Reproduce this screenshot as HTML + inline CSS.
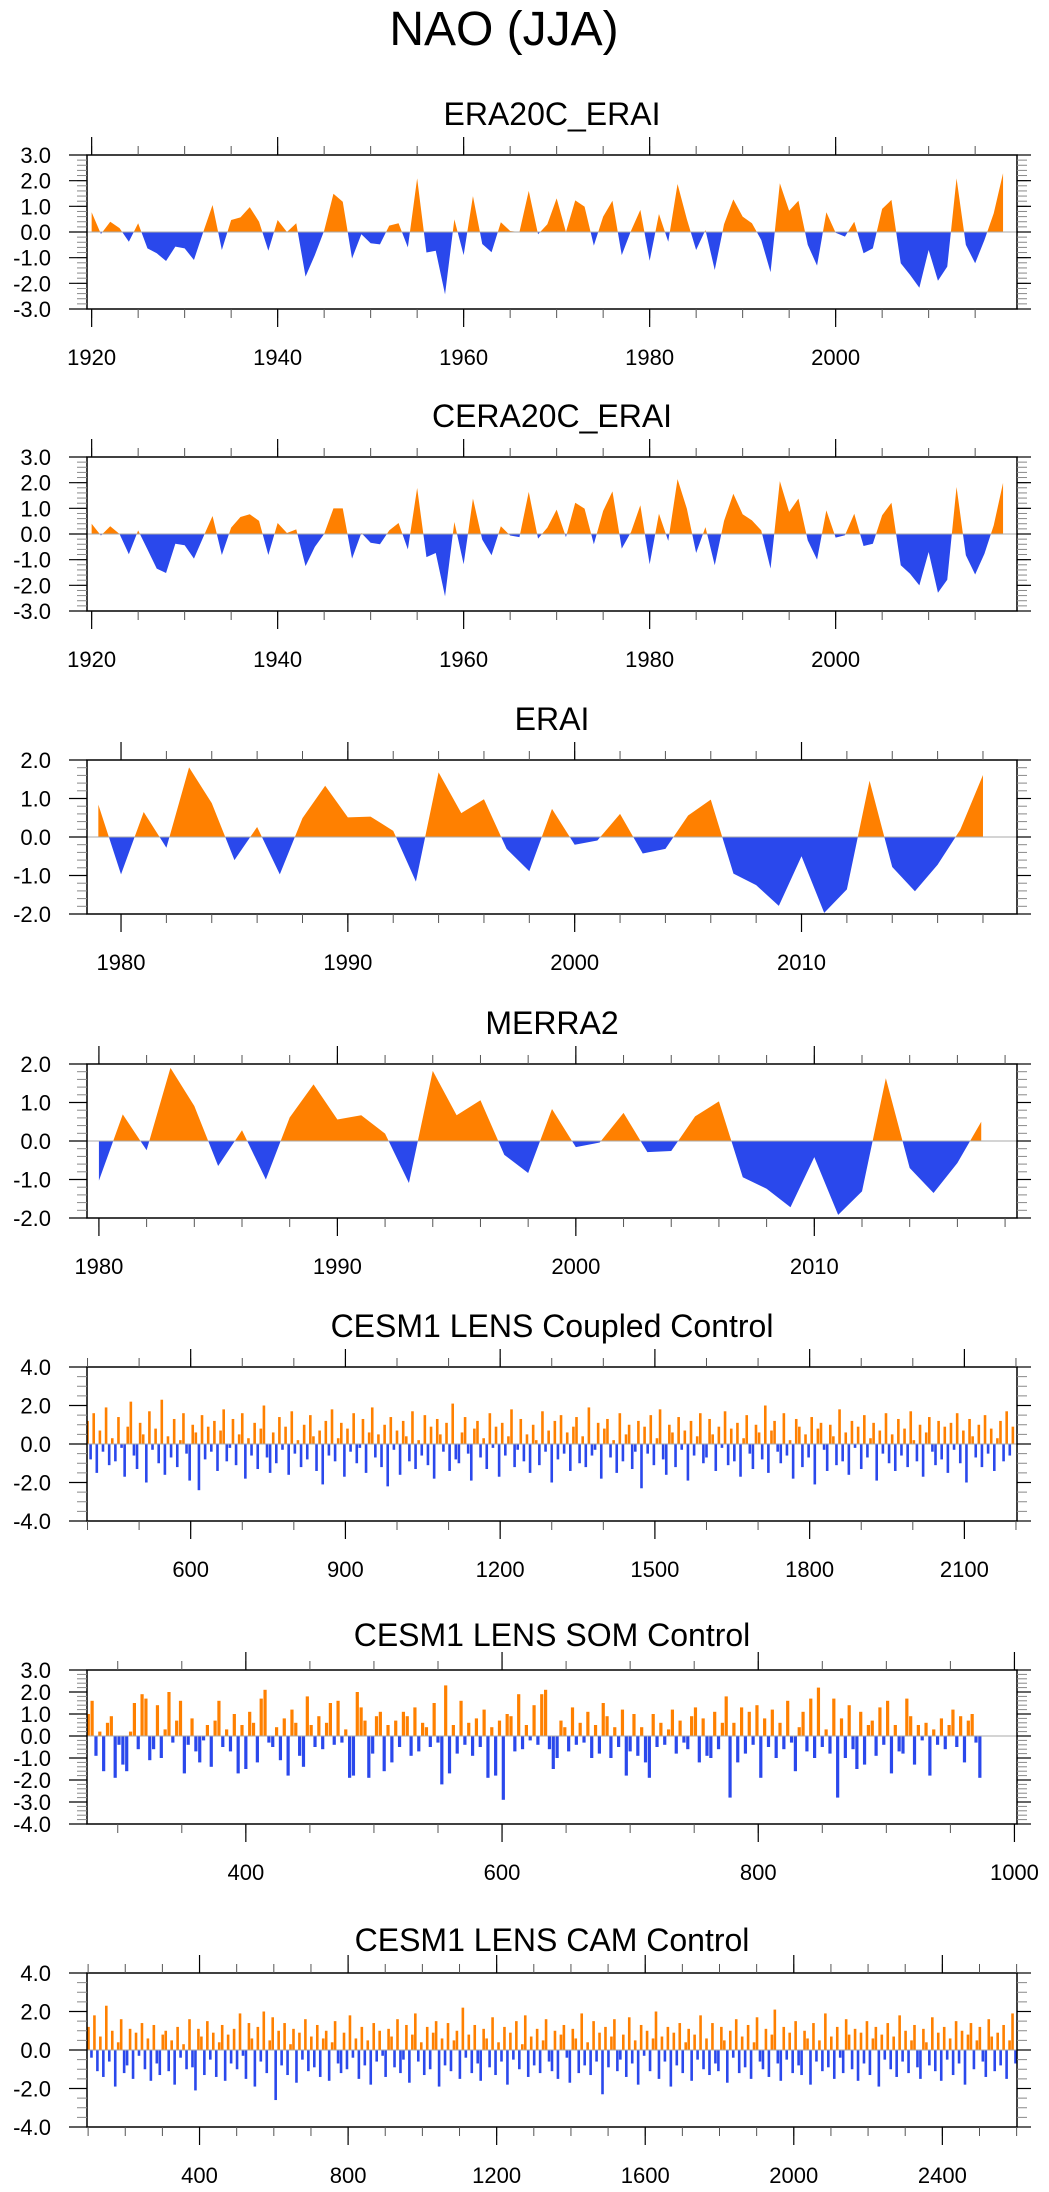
<!DOCTYPE html>
<html><head><meta charset="utf-8"><title>NAO (JJA)</title>
<style>html,body{margin:0;padding:0;background:#fff}svg{display:block;font-family:"Liberation Sans",Arial,sans-serif}</style>
</head><body>
<svg id="fig" width="1049" height="2192" viewBox="0 0 1049 2192" xmlns="http://www.w3.org/2000/svg">
<text x="504" y="45" font-size="48" text-anchor="middle">NAO (JJA)</text>
</svg>
<script>
const era20cYears0 = 1920;
const era20cValues = [0.77,-0.08,0.40,0.15,-0.38,0.34,-0.64,-0.83,-1.13,-0.57,-0.64,-1.09,0.0,1.05,-0.70,0.47,0.57,0.97,0.40,-0.73,0.47,0.0,0.34,-1.74,-0.9,0.05,1.49,1.18,-1.03,-0.09,-0.44,-0.48,0.25,0.34,-0.6,2.09,-0.8,-0.73,-2.43,0.49,-0.9,1.40,-0.47,-0.79,0.38,0.04,0.0,1.6,-0.09,0.3,1.31,0.0,1.23,0.99,-0.53,0.6,1.22,-0.9,0.05,0.86,-1.12,0.7,-0.38,1.87,0.5,-0.7,0.08,-1.48,0.3,1.27,0.6,0.34,-0.31,-1.57,1.9,0.83,1.22,-0.5,-1.31,0.77,-0.03,-0.18,0.4,-0.83,-0.64,0.9,1.25,-1.22,-1.67,-2.17,-0.7,-1.9,-1.35,2.09,-0.5,-1.22,-0.31,0.73,2.29];
const cera20cYears0 = 1920;
const cera20cValues = [0.40,-0.06,0.30,0.0,-0.79,0.14,-0.6,-1.35,-1.52,-0.38,-0.44,-0.96,-0.12,0.70,-0.82,0.25,0.66,0.77,0.51,-0.82,0.43,0.04,0.18,-1.25,-0.5,0.0,1.0,1.0,-0.96,0.04,-0.34,-0.4,0.14,0.43,-0.6,1.79,-0.9,-0.74,-2.43,0.47,-1.18,1.38,-0.22,-0.83,0.30,-0.06,-0.12,1.64,-0.18,0.25,0.95,-0.12,1.22,0.99,-0.4,0.9,1.66,-0.57,0.08,1.12,-1.18,0.79,-0.27,2.14,0.99,-0.74,0.27,-1.22,0.51,1.57,0.77,0.53,0.14,-1.35,2.06,0.86,1.38,-0.25,-1.0,0.92,-0.14,-0.05,0.79,-0.47,-0.38,0.73,1.22,-1.22,-1.55,-2.0,-0.7,-2.29,-1.78,1.83,-0.83,-1.58,-0.77,0.34,1.99];
const eraiYears0 = 1979;
const eraiValues = [0.84,-0.97,0.65,-0.28,1.81,0.88,-0.6,0.26,-0.97,0.49,1.33,0.51,0.53,0.16,-1.16,1.68,0.62,0.98,-0.31,-0.89,0.73,-0.2,-0.09,0.6,-0.43,-0.31,0.56,0.97,-0.95,-1.25,-1.79,-0.5,-1.97,-1.36,1.46,-0.78,-1.41,-0.72,0.19,1.61];
const merra2Years0 = 1980;
const merra2Values = [-1.03,0.69,-0.24,1.90,0.91,-0.65,0.28,-1.0,0.61,1.47,0.56,0.67,0.19,-1.09,1.82,0.67,1.06,-0.36,-0.83,0.83,-0.16,-0.04,0.73,-0.29,-0.26,0.64,1.03,-0.94,-1.24,-1.72,-0.42,-1.92,-1.31,1.63,-0.70,-1.35,-0.57,0.50];
const coupledYear0 = 400, coupledStep = 6;
const coupledValues = [1.2,-0.8,1.6,-1.5,0.7,-0.4,1.9,-1.1,0.3,-0.9,1.4,-0.2,-1.7,0.9,2.2,-0.6,-1.3,1.1,0.5,-2.0,
1.7,-0.3,0.8,-1.0,2.3,-1.6,0.4,-0.7,1.3,-1.2,0.2,1.6,-0.5,-1.9,1.0,0.6,-2.4,1.5,-0.8,0.9,
-0.4,1.2,-1.4,0.7,1.8,-0.9,-0.2,1.3,-1.1,0.5,1.6,-1.8,0.3,-0.6,1.1,-1.3,0.8,2.0,-0.7,-1.5,
0.6,-1.0,1.4,-0.3,0.9,-1.6,1.7,-0.5,0.2,-1.2,1.0,-0.8,1.5,0.4,-1.4,0.7,-2.1,1.2,-0.6,1.8,
-0.9,0.3,1.1,-1.7,0.8,-0.4,1.6,-1.0,-0.2,1.3,-1.5,0.6,1.9,-0.7,0.5,-1.2,1.0,-2.2,1.4,-0.3,
0.7,-1.6,1.2,0.4,-0.9,1.7,-1.3,0.2,-0.6,1.5,-1.1,0.9,-1.8,1.3,0.5,-0.4,1.1,-1.4,2.1,-0.8,
-1.0,0.6,1.4,-0.5,-1.9,0.8,1.2,-0.7,0.3,-1.3,1.6,-0.2,0.9,-1.7,1.1,-0.6,0.4,1.8,-1.2,-0.3,
1.3,-0.9,0.5,-1.5,1.0,0.2,-1.1,1.7,-0.4,0.7,-2.0,1.2,-0.8,1.5,-0.5,0.6,-1.4,0.9,1.4,-1.0,
0.4,-1.2,1.9,-0.6,-0.3,1.1,-1.8,0.8,1.3,-0.7,0.2,-1.5,1.6,-0.9,0.5,1.0,-1.3,-0.4,1.2,-2.3,
0.9,-0.5,1.5,-1.1,0.3,1.8,-0.8,-1.6,1.0,0.6,-1.2,1.4,-0.3,0.7,-1.9,1.2,-0.6,0.4,1.6,-1.0,
-0.7,1.3,0.5,-1.4,0.9,-0.2,1.7,-1.1,0.8,-0.9,1.1,-1.7,0.3,1.5,-0.5,-1.3,1.0,0.6,-0.8,2.0,
-1.5,0.7,1.2,-0.4,-1.0,1.6,-0.6,0.2,-1.8,1.3,0.9,-1.2,0.5,-0.7,1.4,-2.1,0.8,1.1,-0.3,-1.4,
1.0,0.4,-1.1,1.8,-0.9,0.6,-1.6,1.2,-0.2,0.9,-1.3,1.5,-0.7,0.3,1.1,-1.9,0.7,-0.5,1.6,-1.0,
0.5,-1.4,1.3,-0.6,0.8,-1.2,1.7,0.2,-0.9,1.0,-1.7,0.6,1.4,-0.4,-1.1,1.2,-0.8,0.9,-1.5,1.1,
-0.3,1.6,-1.0,0.7,-2.0,1.3,0.4,-0.7,1.0,-1.2,1.5,-0.5,0.8,-1.4,0.3,1.2,-0.9,1.7,-0.6,0.9];
const somYear0 = 277, somStep = 3;
const somValues = [1.0,1.6,-0.9,0.2,-1.6,0.6,0.9,-1.9,-0.4,-1.3,-1.6,0.2,1.5,-0.6,1.9,1.7,-1.1,-0.6,1.4,-1.0,
0.3,2.0,-0.3,0.7,1.6,-1.7,-0.4,0.8,-0.7,-1.2,-0.2,0.5,-1.4,0.7,1.6,-0.5,0.3,-0.7,1.0,-1.7,
0.5,-1.5,1.1,0.6,-1.2,1.7,2.1,-0.3,-0.5,0.4,-1.1,0.8,-1.8,1.2,0.6,-0.9,-1.4,1.8,0.5,-0.5,
0.9,-0.6,0.6,1.5,-0.4,1.6,-0.3,0.3,-1.9,-1.8,2.0,1.3,0.7,-1.9,-0.8,0.9,1.1,-1.6,0.5,-1.2,
0.7,-0.5,1.1,0.9,-0.9,1.3,-0.7,0.6,0.4,-0.5,1.5,-0.3,-2.2,2.3,-1.7,0.5,-0.8,1.6,-0.4,0.6,
-0.9,0.8,-0.5,1.2,-1.9,0.4,-1.8,0.7,-2.9,1.0,0.9,-0.7,1.9,-0.6,0.5,-0.2,1.4,-0.4,1.9,2.1,
-0.6,-1.5,-1.0,0.7,0.4,-0.7,1.3,-0.4,0.6,-0.3,1.1,-1.0,0.5,-0.8,1.5,0.9,-1.0,0.4,-0.5,1.2,
-1.8,-0.7,1.0,-0.9,0.4,-1.2,-1.9,1.0,-0.5,0.6,-0.4,0.3,1.2,-0.8,0.7,-0.3,-0.6,0.9,1.3,-1.2,
0.8,-0.9,-1.0,1.1,-0.6,0.6,1.8,-2.8,0.6,-1.2,1.3,-0.8,1.1,-0.4,1.4,-1.9,0.8,-0.5,1.2,-1.0,
0.6,-0.6,1.6,-0.3,-1.6,0.4,1.1,-0.7,1.7,-1.0,2.2,-0.5,0.3,-0.8,1.7,-2.8,0.8,-1.0,1.4,-0.6,
-1.5,1.1,-1.3,0.5,0.7,-0.9,1.3,-0.4,1.6,-1.7,0.5,-0.7,-0.8,1.7,0.9,-1.3,0.5,-0.2,0.6,-1.8,
0.3,-0.4,0.8,-0.6,0.5,1.2,-0.5,0.9,-1.2,0.7,1.0,-0.3,-1.9];
const camYear0 = 101, camStep = 8;
const camValues = [1.2,-0.4,1.8,-1.1,0.7,-1.4,2.3,-0.6,1.0,-1.9,0.4,1.6,-1.2,-0.8,1.1,-1.5,0.9,-0.3,1.4,-1.0,
0.6,-1.6,1.3,-0.7,-1.3,0.8,1.0,-1.1,0.5,-1.8,1.2,-0.4,0.3,-1.0,1.6,-0.9,-2.1,1.1,0.7,-1.3,
1.5,-0.5,0.9,-1.4,0.4,1.3,-1.6,0.8,-0.7,1.1,-1.0,1.9,-0.3,-1.5,1.4,0.6,-1.9,1.2,-0.6,2.0,
-1.2,0.5,1.7,-2.6,1.0,-0.8,1.4,-1.3,0.3,1.1,-1.7,0.9,-0.5,1.6,-1.1,0.7,-0.9,1.3,-1.4,0.6,
1.0,-1.6,0.4,1.5,-0.7,-1.2,0.9,-1.0,1.8,-0.4,0.6,-1.5,1.2,-0.8,0.5,-1.8,1.4,-0.6,1.0,-0.3,
-1.4,1.1,0.7,-0.9,1.6,-1.2,-0.5,1.3,-1.7,0.8,1.9,-0.6,0.4,-1.3,1.2,-1.0,0.9,1.5,-1.9,0.6,
-0.8,1.4,-1.1,0.5,1.0,-1.5,2.2,-0.4,0.8,-1.2,1.3,-0.7,-1.6,1.1,0.6,-0.9,1.7,-1.3,0.4,-0.6,
1.2,-1.8,0.9,-0.5,1.5,-1.0,0.3,1.8,-1.4,0.7,-0.8,1.1,-1.2,0.5,1.6,-0.6,-1.1,1.0,-1.5,0.8,
1.3,-0.4,-1.7,1.1,0.6,-1.2,1.9,-0.8,0.4,-1.3,1.5,-0.6,0.9,-2.3,1.2,-0.9,0.7,1.6,-1.1,-0.5,
0.8,-1.4,1.7,-0.7,0.5,-1.8,1.3,-0.3,1.0,-1.1,0.6,2.0,-1.5,0.7,-0.6,1.2,-1.9,0.9,-0.8,1.4,
-1.2,0.4,1.1,-1.6,0.8,-0.5,1.8,-1.0,0.6,-1.3,1.4,-0.7,-1.1,1.2,0.5,-1.7,1.0,-0.4,1.6,-1.2,
0.7,-0.9,1.3,-1.5,0.4,1.7,-0.6,-1.0,1.1,-1.4,0.8,2.1,-0.7,-1.6,1.2,-0.5,0.9,-1.2,1.5,-0.8,
-1.3,1.0,0.6,-1.8,1.4,-0.6,0.5,-1.1,1.9,-0.9,0.7,-1.5,1.2,-0.4,-1.2,1.6,0.8,-1.0,1.1,-1.6,
0.9,-0.7,1.5,-1.3,0.6,1.2,-1.9,0.8,-0.5,1.4,-1.0,0.7,-1.4,1.8,-0.6,1.0,-1.2,0.5,1.3,-0.9,
-1.5,1.1,0.4,-0.8,1.7,-1.1,0.9,-1.6,1.2,-0.5,0.6,-1.3,1.5,-0.7,1.0,-1.8,0.8,1.4,-1.0,0.5,
1.2,-0.6,-1.4,1.6,0.7,-1.1,0.9,-0.8,1.3,-1.5,0.5,1.9,-0.7,1.0,-1.2,0.6,1.4,-0.9,-1.3,1.8];

const era20cXTicks = [1920,1940,1960,1980,2000];
const decadeXTicks = [1980,1990,2000,2010];
const coupledXTicks = [600,900,1200,1500,1800,2100];
const somXTicks = [400,600,800,1000];
const camXTicks = [400,800,1200,1600,2000,2400];
const yTicks3 = [3,2,1,0,-1,-2,-3];
const yTicks2 = [2,1,0,-1,-2];
const yTicks4 = [4,2,0,-2,-4];
const yTicksSom = [3,2,1,0,-1,-2,-3,-4];

const NS = "http://www.w3.org/2000/svg";
const svg = document.getElementById('fig');
const L = 87, R = 1017, H = 154;
const ORANGE = "#ff8000", BLUE = "#2a48ec";
let clipId = 0;

function mk(tag, attrs, parent) {
  const e = document.createElementNS(NS, tag);
  for (const k in attrs) e.setAttribute(k, attrs[k]);
  (parent || svg).appendChild(e);
  return e;
}

function panel(cfg) {
  const g = mk('g', {});
  
  
  const top = cfg.top, bot = top + H;
  const xs = v => L + (v - cfg.xmin) / (cfg.xmax - cfg.xmin) * (R - L);
  const ys = v => top + (cfg.ymax - v) / (cfg.ymax - cfg.ymin) * H;
  const t = mk('text', {x: (L + R) / 2, y: cfg.titleY, 'font-size': 32, 'text-anchor': 'middle'}, g);
  t.textContent = cfg.title;
  
  
  const cid = 'c' + (clipId++);
  const defs = mk('defs', {}, g);
  const cpA = mk('clipPath', {id: cid + 'a'}, defs);
  mk('rect', {x: L, y: top, width: R - L, height: ys(0) - top}, cpA);
  const cpB = mk('clipPath', {id: cid + 'b'}, defs);
  mk('rect', {x: L, y: ys(0), width: R - L, height: bot - ys(0)}, cpB);
  const cpAll = mk('clipPath', {id: cid + 'c'}, defs);
  mk('rect', {x: L, y: top, width: R - L, height: H}, cpAll);
  const z = ys(0);
  if (cfg.type === 'area') {
    let pts = [];
    cfg.values.forEach((v, i) => pts.push(xs(cfg.x0 + i).toFixed(2) + ',' + ys(v).toFixed(2)));
    const first = xs(cfg.x0), last = xs(cfg.x0 + cfg.values.length - 1);
    const d = first.toFixed(2) + ',' + z + ' ' + pts.join(' ') + ' ' + last.toFixed(2) + ',' + z;
    const pa = mk('polygon', {points: d, fill: ORANGE, 'clip-path': 'url(#' + cid + 'a)'}, g);
    
    
    const pb = mk('polygon', {points: d, fill: BLUE, 'clip-path': 'url(#' + cid + 'b)'}, g);
    
    
  } else {
    const bg = mk('g', {'clip-path': 'url(#' + cid + 'c)'}, g);
    cfg.values.forEach((v, i) => {
      const x = xs(cfg.x0 + i * cfg.step);
      const y = ys(v);
      const b = mk('rect', {x: (x - cfg.bw / 2).toFixed(2), y: Math.min(y, z).toFixed(2), width: cfg.bw, height: Math.abs(z - y).toFixed(2), fill: v >= 0 ? ORANGE : BLUE}, bg);
      
      
    });
  }
  mk('line', {x1: L, x2: R, y1: z, y2: z, stroke: '#aaa', 'stroke-width': 1}, g);
  const frame = mk('rect', {x: L, y: top, width: R - L, height: H, fill: 'none', stroke: '#000', 'stroke-width': 1.5}, g);
  
  
  for (let v = cfg.ymin; v <= cfg.ymax + 1e-6; v += cfg.yminor) {
    const y = ys(v);
    mk('line', {x1: L - 10, x2: L, y1: y, y2: y, stroke: '#888', 'stroke-width': 1}, g);
    mk('line', {x1: R, x2: R + 10, y1: y, y2: y, stroke: '#888', 'stroke-width': 1}, g);
  }
  cfg.yticks.forEach(v => {
    const y = ys(v);
    mk('line', {x1: L - 18, x2: L, y1: y, y2: y, stroke: '#000', 'stroke-width': 1.2}, g);
    mk('line', {x1: R, x2: R + 14, y1: y, y2: y, stroke: '#000', 'stroke-width': 1.2}, g);
    const tl = mk('text', {x: 51, y: y + 8, 'font-size': 22, 'text-anchor': 'end'}, g);
    tl.textContent = v.toFixed(1);
    
    
  });
  const s0 = Math.ceil(cfg.xmin / cfg.xminor) * cfg.xminor;
  for (let v = s0; v <= cfg.xmax; v += cfg.xminor) {
    const x = xs(v);
    mk('line', {x1: x, x2: x, y1: top - 9, y2: top, stroke: '#555', 'stroke-width': 1}, g);
    mk('line', {x1: x, x2: x, y1: bot, y2: bot + 9, stroke: '#555', 'stroke-width': 1}, g);
  }
  cfg.xticks.forEach(v => {
    const x = xs(v);
    mk('line', {x1: x, x2: x, y1: top - 18, y2: top, stroke: '#000', 'stroke-width': 1.2}, g);
    mk('line', {x1: x, x2: x, y1: bot, y2: bot + 18, stroke: '#000', 'stroke-width': 1.2}, g);
    const tl = mk('text', {x: x, y: bot + 56, 'font-size': 22, 'text-anchor': 'middle'}, g);
    tl.textContent = String(v);
    
    
  });
}

panel({name:'era20c-erai', title:'ERA20C_ERAI', titleY:125, top:155, type:'area', x0:era20cYears0, values:era20cValues, xmin:1919.5, xmax:2019.5, ymin:-3, ymax:3, yticks:yTicks3, yminor:0.2, xticks:era20cXTicks, xminor:5});
panel({name:'cera20c-erai', title:'CERA20C_ERAI', titleY:427, top:457, type:'area', x0:cera20cYears0, values:cera20cValues, xmin:1919.5, xmax:2019.5, ymin:-3, ymax:3, yticks:yTicks3, yminor:0.2, xticks:era20cXTicks, xminor:5});
panel({name:'erai', title:'ERAI', titleY:730, top:760, type:'area', x0:eraiYears0, values:eraiValues, xmin:1978.5, xmax:2019.5, ymin:-2, ymax:2, yticks:yTicks2, yminor:0.2, xticks:decadeXTicks, xminor:2});
panel({name:'merra2', title:'MERRA2', titleY:1034, top:1064, type:'area', x0:merra2Years0, values:merra2Values, xmin:1979.5, xmax:2018.5, ymin:-2, ymax:2, yticks:yTicks2, yminor:0.2, xticks:decadeXTicks, xminor:2});
panel({name:'coupled-control', title:'CESM1 LENS Coupled Control', titleY:1337, top:1367, type:'bar', x0:coupledYear0, step:coupledStep, bw:2.6, values:coupledValues, xmin:399, xmax:2202, ymin:-4, ymax:4, yticks:yTicks4, yminor:0.5, xticks:coupledXTicks, xminor:100});
panel({name:'som-control', title:'CESM1 LENS SOM Control', titleY:1646, top:1670, type:'bar', x0:somYear0, step:somStep, bw:3.2, values:somValues, xmin:276, xmax:1002, ymin:-4, ymax:3, yticks:yTicksSom, yminor:0.2, xticks:somXTicks, xminor:50});
panel({name:'cam-control', title:'CESM1 LENS CAM Control', titleY:1951, top:1973, type:'bar', x0:camYear0, step:camStep, bw:2.6, values:camValues, xmin:97, xmax:2601, ymin:-4, ymax:4, yticks:yTicks4, yminor:0.5, xticks:camXTicks, xminor:100});
</script>
</body></html>
